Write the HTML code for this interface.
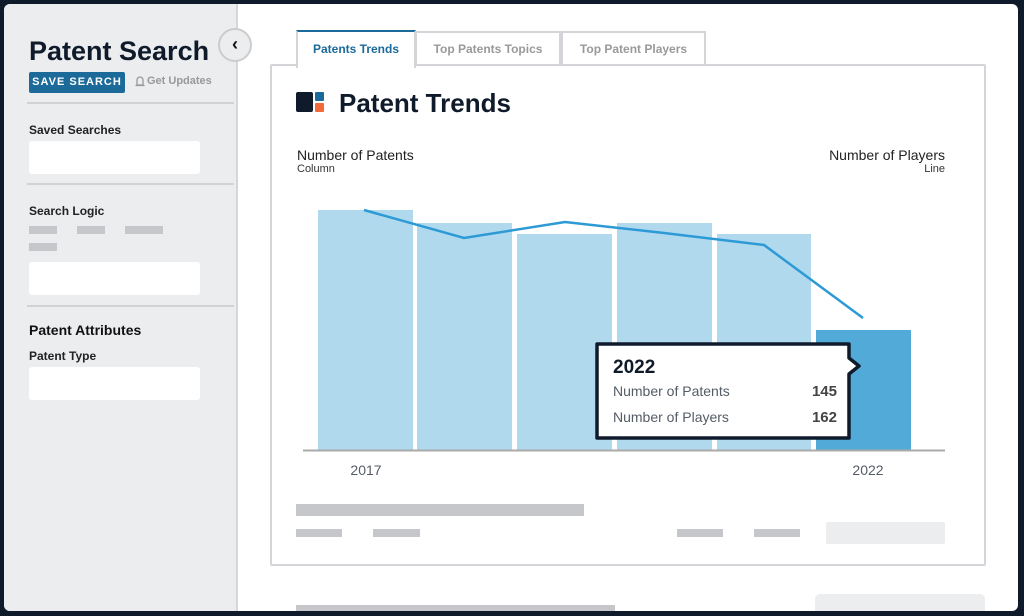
<!DOCTYPE html><html><head><style>
*{margin:0;padding:0;box-sizing:border-box}
body{width:1024px;height:616px;overflow:hidden;background:#0f1a2a;font-family:"Liberation Sans",sans-serif;position:relative}
.frame{position:absolute;left:4px;top:4px;width:1014px;height:607px;background:#fff;border-radius:6px;overflow:hidden}
.a{position:absolute}
.side{left:-4px;top:-4px;width:238px;height:620px;background:#ecedef;border-right:2px solid #d6d7da}
.g{background:#c5c7cb}
.inp{background:#fff;border-radius:3px}
.sep{height:2px;background:#d0d2d5}
.lbl{font-size:12px;font-weight:bold;color:#222}
</style></head><body>
<div class="frame">
<div class="a side"></div>
<div class="a" style="left:25px;top:32px;font-size:27px;font-weight:bold;color:#0f1a2a">Patent Search</div>
<div class="a" style="left:25px;top:68px;width:96px;height:21px;background:#1b6a9a;border-radius:2px;color:#fff;font-size:11px;font-weight:bold;letter-spacing:1px;line-height:21px;text-align:center;white-space:nowrap">SAVE SEARCH</div>
<svg class="a" style="left:131px;top:71px" width="10" height="13"><path d="M2,10 V5 a3,3 0 0 1 6,0 V10 Z M0.5,10.5 H9.5" fill="none" stroke="#999" stroke-width="1.3"/></svg>
<div class="a" style="left:143px;top:71px;font-size:11px;color:#999;font-weight:bold;white-space:nowrap">Get Updates</div>
<div class="a sep" style="left:23px;top:98px;width:207px"></div>
<div class="a lbl" style="left:25px;top:119px">Saved Searches</div>
<div class="a inp" style="left:25px;top:137px;width:171px;height:33px"></div>
<div class="a sep" style="left:23px;top:179px;width:207px"></div>
<div class="a lbl" style="left:25px;top:200px">Search Logic</div>
<div class="a g" style="left:25px;top:222px;width:28px;height:8px"></div>
<div class="a g" style="left:73px;top:222px;width:28px;height:8px"></div>
<div class="a g" style="left:121px;top:222px;width:38px;height:8px"></div>
<div class="a g" style="left:25px;top:239px;width:28px;height:8px"></div>
<div class="a inp" style="left:25px;top:258px;width:171px;height:33px"></div>
<div class="a sep" style="left:23px;top:301px;width:207px"></div>
<div class="a" style="left:25px;top:318px;font-size:14px;font-weight:bold;color:#111">Patent Attributes</div>
<div class="a lbl" style="left:25px;top:345px">Patent Type</div>
<div class="a inp" style="left:25px;top:363px;width:171px;height:33px"></div>
<div class="a" style="left:214px;top:24px;width:34px;height:34px;border-radius:50%;background:#ecedef;border:2px solid #ccc;text-align:center;line-height:28px;font-size:18px;font-weight:bold;color:#111">‹</div>
<div class="a" style="left:266px;top:60px;width:716px;height:502px;border:2px solid #d3d5d8;border-radius:2px"></div>
<div class="a" style="left:292px;top:26px;width:120px;height:38px;background:#fff;border:2px solid #d3d5d8;border-top:2px solid #1b6a9a;border-bottom:none;font-size:12px;font-weight:bold;color:#1b6a9a;text-align:center;line-height:34px">Patents Trends</div>
<div class="a" style="left:411px;top:27px;width:146px;height:34px;border:2px solid #d3d5d8;border-bottom:none;font-size:12px;font-weight:bold;color:#999;text-align:center;line-height:32px">Top Patents Topics</div>
<div class="a" style="left:557px;top:27px;width:145px;height:34px;border:2px solid #d3d5d8;border-bottom:none;font-size:12px;font-weight:bold;color:#999;text-align:center;line-height:32px">Top Patent Players</div>
<svg class="a" style="left:292px;top:88px" width="30" height="22"><rect x="0" y="0" width="17" height="20" rx="2" fill="#0f1a2a"/><rect x="19" y="0" width="9" height="9" rx="1" fill="#1b6a9a"/><rect x="19" y="11" width="9" height="9" rx="1" fill="#f26a3c"/></svg>
<div class="a" style="left:335px;top:84px;font-size:26px;font-weight:bold;color:#0f1a2a">Patent Trends</div>
<div class="a" style="left:293px;top:143px;font-size:14px;color:#222">Number of Patents</div>
<div class="a" style="left:293px;top:159px;font-size:11px;color:#333">Column</div>
<div class="a" style="left:741px;top:143px;width:200px;text-align:right;font-size:14px;color:#222">Number of Players</div>
<div class="a" style="left:741px;top:159px;width:200px;text-align:right;font-size:11px;color:#333">Line</div>
<svg class="a" style="left:-4px;top:-4px" width="1024" height="616">
<g fill="#b0d9ee"><rect x="318" y="210" width="95" height="240"/><rect x="417" y="223" width="95" height="227"/><rect x="517" y="234" width="95" height="216"/><rect x="617" y="223" width="95" height="227"/><rect x="717" y="234" width="94" height="216"/></g>
<rect x="816" y="330" width="95" height="120" fill="#52aad8"/>
<line x1="303" y1="450.5" x2="945" y2="450.5" stroke="#aaa" stroke-width="2"/>
<polyline points="364,210 464,238 565,222 664,233 764,245 863,318" fill="none" stroke="#2d9ad6" stroke-width="2.5"/>
<path d="M597,344 H849 V358 L859,366 L849,374 V438 H597 Z" fill="#fff" stroke="#0f1a2a" stroke-width="3.5" stroke-linejoin="round"/>
<text x="613" y="373" font-size="19" font-weight="bold" fill="#0f1a2a" font-family="Liberation Sans">2022</text>
<text x="613" y="396" font-size="14" fill="#555c66" font-family="Liberation Sans">Number of Patents</text>
<text x="613" y="422" font-size="14" fill="#555c66" font-family="Liberation Sans">Number of Players</text>
<text x="837" y="396" font-size="15" font-weight="bold" fill="#444" text-anchor="end" font-family="Liberation Sans">145</text>
<text x="837" y="422" font-size="15" font-weight="bold" fill="#444" text-anchor="end" font-family="Liberation Sans">162</text>
<text x="366" y="475" font-size="14" fill="#555c66" text-anchor="middle" font-family="Liberation Sans">2017</text>
<text x="868" y="475" font-size="14" fill="#555c66" text-anchor="middle" font-family="Liberation Sans">2022</text>
<g fill="#c5c7cb"><rect x="296" y="504" width="288" height="12"/><rect x="296" y="529" width="46" height="8"/><rect x="373" y="529" width="47" height="8"/><rect x="677" y="529" width="46" height="8"/><rect x="754" y="529" width="46" height="8"/><rect x="296" y="605" width="319" height="10"/></g>
<rect x="826" y="522" width="119" height="22" rx="2" fill="#ecedef"/>
<rect x="815" y="594" width="170" height="30" rx="5" fill="#ecedef"/>
</svg>
</div>
</body></html>
